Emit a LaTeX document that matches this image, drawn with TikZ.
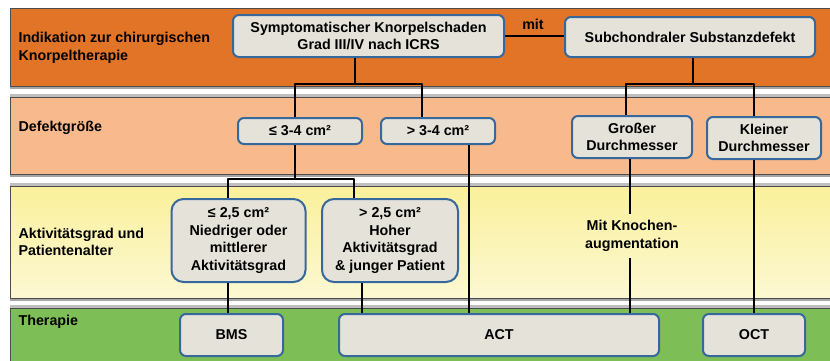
\documentclass[tikz,border=0pt]{standalone}
\usepackage{fontspec}
\setmainfont{Liberation Sans}
\definecolor{bandA}{RGB}{226,116,40}
\definecolor{bandB}{RGB}{248,186,140}
\definecolor{bandCtop}{RGB}{250,240,155}
\definecolor{bandCbot}{RGB}{252,248,210}
\definecolor{bandD}{RGB}{125,191,86}
\definecolor{boxfill}{RGB}{229,227,217}
\definecolor{boxline}{RGB}{55,104,156}
\begin{document}
\begin{tikzpicture}[x=1pt, y=-1pt, font=\fontsize{14.3}{17.5}\selectfont\bfseries, line join=round,
  band/.style={draw=black!70, line width=0.8pt},
  box/.style={draw=boxline, fill=boxfill, line width=2pt, rounded corners=6pt, align=center, inner sep=1pt},
  bigbox/.style={box, rounded corners=12pt, minimum width=134, minimum height=83},
  conn/.style={line width=2.3pt},
  lbl/.style={anchor=west, align=left}]
\useasboundingbox (0,0) rectangle (830,360);
% bands
\foreach \a/\b in {86/97,174/186,298/308}{
  \fill[black!35] (10,\a) rectangle (833,\a+3);
  \fill[black!25] (10,\b-3) rectangle (833,\b);
}
\draw[band, fill=bandA] (10,8) rectangle (833,86);
\draw[band, fill=bandB] (10,97) rectangle (833,174);
\draw[band, top color=bandCtop, bottom color=bandCbot] (10,186) rectangle (833,298);
\draw[band, fill=bandD] (10,308) rectangle (833,366);
\node[lbl] (l1) at (15,48) {Indikation zur chirurgischen\\Knorpeltherapie};
\node[lbl] (l2) at (15,128) {Defektgröße};
\node[lbl] (l3) at (15,242) {Aktivitätsgrad und\\Patientenalter};
\node[lbl] (l4) at (15,322) {Therapie};
% junctions
\coordinate (s1) at (355,84);
\coordinate (d1) at (295,84);
\coordinate (d2) at (422,84);
\coordinate (e0) at (295,179);
\coordinate (e1) at (228,179);
\coordinate (e2) at (354,179);
\coordinate (f1) at (362,300);
\coordinate (g1) at (469,200);
\coordinate (h0) at (693,84);
\coordinate (h1) at (626,84);
\coordinate (h2) at (754,84);
\coordinate (k1) at (630,200);
% boxes
\node[box, minimum width=271, minimum height=42] (sympt) at (368.5,36) {Symptomatischer Knorpelschaden\\Grad III/IV nach ICRS};
\node[box, minimum width=250, minimum height=40] (subch) at (690,37) {Subchondraler Substanzdefekt};
\node[box, minimum width=124, minimum height=26] (le34) at (300,131) {≤ 3-4 cm²};
\node[box, minimum width=114, minimum height=26] (gt34) at (438,131) {> 3-4 cm²};
\node[box, minimum width=120, minimum height=42] (gross) at (632,137) {Großer\\Durchmesser};
\node[box, minimum width=114, minimum height=42] (klein) at (764,138) {Kleiner\\Durchmesser};
\node[bigbox] (le25) at (238.5,240.5) {≤ 2,5 cm²\\Niedriger oder\\mittlerer\\Aktivitätsgrad};
\node[bigbox, minimum width=136] (gt25) at (390,240.5) {> 2,5 cm²\\Hoher\\Aktivitätsgrad\\\& junger Patient};
\node[align=center, minimum height=44] (knochen) at (632,236) {Mit Knochen-\\augmentation};
\node[box, minimum width=103, minimum height=42] (bms) at (231.5,335) {BMS};
\node[box, minimum width=320, minimum height=42] (act) at (499,335) {ACT};
\node[box, minimum width=102, minimum height=42] (oct) at (754,335) {OCT};
\node (mit) at (533,24) {mit};
% connectors
\draw[conn] (sympt.east) -- (sympt.east -| subch.west);
\draw[conn] (s1 |- sympt.south) -- (s1);
\draw[conn] (d1 |- le34.north) -- (d1) -- (d2) -- (d2 |- gt34.north);
\draw[conn] (e0 |- le34.south) -- (e0);
\draw[conn] (e1 |- le25.north) -- (e1) -- (e2) -- (e2 |- gt25.north);
\draw[conn] (e1 |- le25.south) -- (e1 |- bms.north);
\draw[conn] (f1 |- gt25.south) -- (f1 |- act.north);
\draw[conn] (g1 |- gt34.south) -- (g1 |- act.north);
\draw[conn] (h0 |- subch.south) -- (h0);
\draw[conn] (h1 |- gross.north) -- (h1) -- (h2) -- (h2 |- klein.north);
\draw[conn] (k1 |- gross.south) -- (k1 |- knochen.north);
\draw[conn] (k1 |- knochen.south) -- (k1 |- act.north);
\draw[conn] (h2 |- klein.south) -- (h2 |- oct.north);
\end{tikzpicture}
\end{document}
